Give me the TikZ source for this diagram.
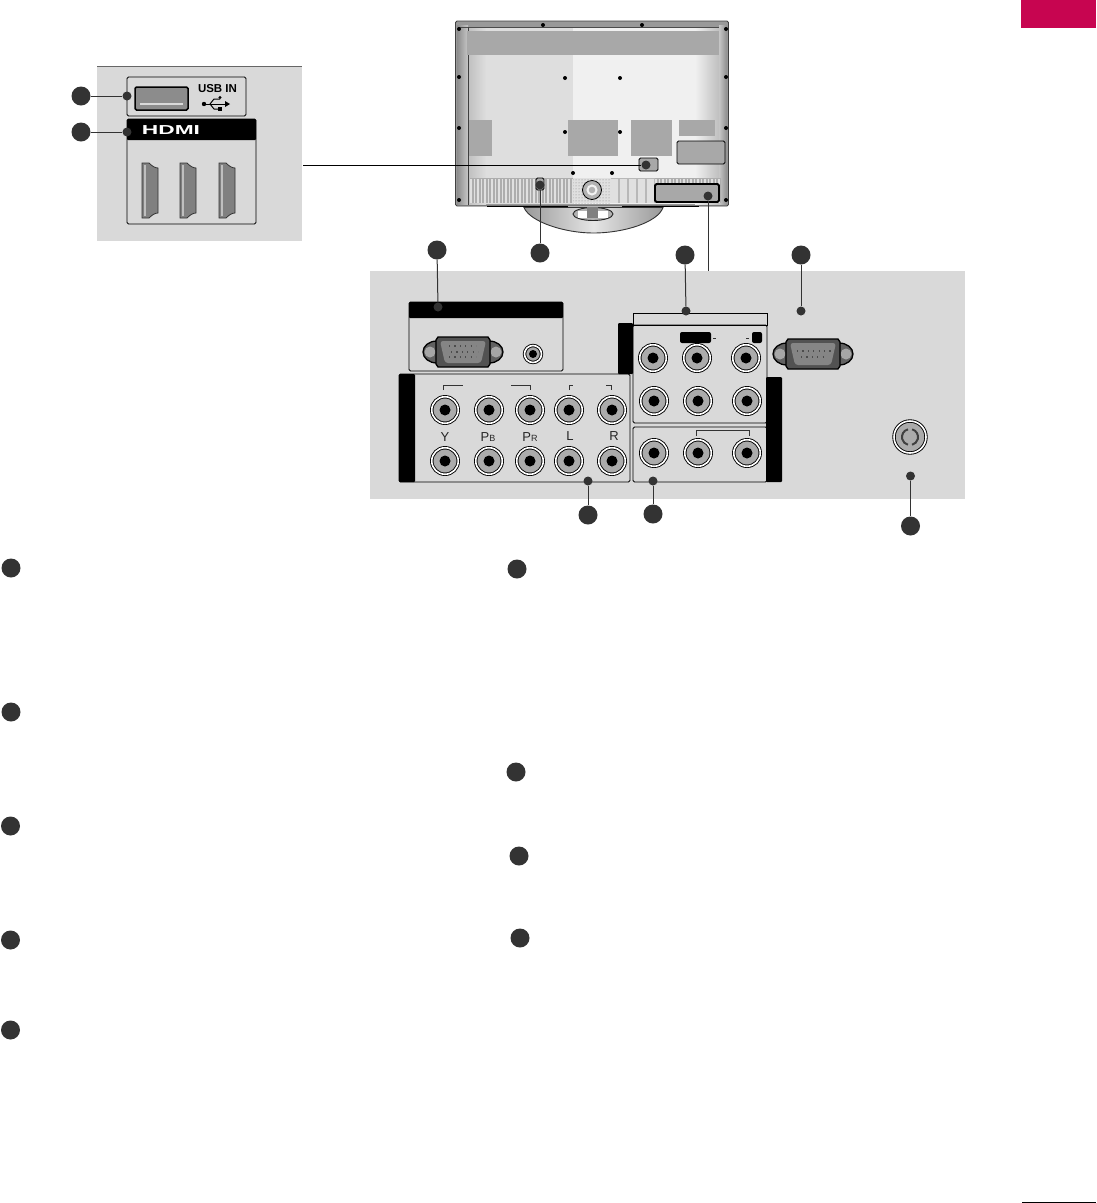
\documentclass[tikz,border=0pt]{standalone}
\usepackage{fontspec}
\setmainfont{Liberation Sans}
\usepackage{xcolor}
\usetikzlibrary{positioning, patterns}
\definecolor{panelgrey}{HTML}{D9D9D9}
\definecolor{markgrey}{HTML}{333333}
\definecolor{blockgrey}{HTML}{A8A8A8}
\definecolor{jackgrey}{HTML}{ABABAB}
\definecolor{tabred}{HTML}{C70550}

\begin{document}
\begin{tikzpicture}[
        x=1pt, y=-1pt,
        panel/.style={
            rectangle,
            fill=panelgrey,
            anchor=north west,
            inner sep=0pt,
            outer sep=0pt
        },
        portbox/.style={
            rectangle,
            draw=black,
            line width=0.9pt,
            rounded corners=1.5pt,
            anchor=north west,
            inner sep=0pt,
            outer sep=0pt
        },
        blackbar/.style={
            rectangle,
            fill=black,
            rounded corners=1pt,
            anchor=north west,
            inner sep=0pt,
            outer sep=0pt
        },
        tvblock/.style={
            rectangle,
            fill=blockgrey,
            anchor=north west,
            inner sep=0pt,
            outer sep=0pt
        },
        bullet/.style={
            circle,
            fill=markgrey,
            minimum size=19pt,
            inner sep=0pt
        },
        dotmark/.style={
            circle,
            fill=markgrey,
            minimum size=9pt,
            inner sep=0pt
        },
        screw/.style={
            circle,
            fill=black,
            minimum size=4pt,
            inner sep=0pt
        },
        jack/.style={
            circle,
            draw=black,
            double=white,
            double distance=1.6pt,
            line width=0.9pt,
            fill=jackgrey,
            minimum size=26.5pt,
            inner sep=0pt,
            path picture={\fill[black] (path picture bounding box.center) circle (5.5pt);}
        },
        smalljack/.style={
            jack,
            minimum size=17pt,
            fill=blockgrey,
            path picture={\fill[black] (path picture bounding box.center) circle (4pt);}
        },
        antenna/.style={
            jack,
            minimum size=32pt,
            path picture={}
        },
        link/.style={
            draw=markgrey,
            line width=1pt
        },
        bracket/.style={
            draw=black!80,
            line width=0.8pt
        },
        jacklabel/.style={
            font=\fontsize{13}{13}\selectfont,
            text=black!85,
            inner sep=0pt
        },
        pinrow/.style={
            draw=black!70,
            line width=1.2pt,
            dash pattern=on 1.2pt off 4.2pt
        },
        ventlines/.style={
            draw=black!12,
            line width=24pt,
            dash pattern=on 1.6pt off 1.9pt
        },
        hdmiport/.pic={
            \draw[draw=black!80, line width=0.8pt, fill=black!50] (0,0) -- (7,0) .. controls (10,3) and (13,5) .. (16,5) -- (16,50) .. controls (13,50) and (10,52) .. (7,55) -- (0,55) -- cycle;
            \fill[black!25] (2,2) rectangle (4,53);
        },
        dsub/.pic={
            \draw[line width=1.3pt, fill=black!62] (-26,-11) .. controls (-34,-11) and (-40,-6) .. (-40,0) .. controls (-40,6) and (-34,11) .. (-26,11) -- (26,11) .. controls (34,11) and (40,6) .. (40,0) .. controls (40,-6) and (34,-11) .. (26,-11) -- cycle;
            \fill[black!35] (-33,0) circle (5.5pt);
            \fill[black!35] (33,0) circle (5.5pt);
            \draw[line width=1.3pt, fill=black!68] (-25,-15) -- (25,-15) -- (27,-12) -- (27,12) -- (25,15) -- (-25,15) -- (-27,12) -- (-27,-12) -- cycle;
            \fill[black!48, rounded corners=3pt] (-23,-11) -- (23,-11) -- (18,11) -- (-18,11) -- cycle;
        }
    ]
        \useasboundingbox (0,0) rectangle (1096,1203);

        % corner tab and foot line
        \node (tab) [panel, fill=tabred, minimum width=75pt, minimum height=28pt] at (1021,0) {};
        \node (footline) [panel, fill=black, minimum width=74pt, minimum height=1pt] at (1022,1202) {};

        % side panel with usb and hdmi
        \node (sidepanel) [panel, minimum width=205pt, minimum height=175pt] at (97,66) {};
        \draw [draw=black!60, line width=0.7pt] (sidepanel.north west) -- (sidepanel.north east);
        \node (usbbox) [portbox, minimum width=119pt, minimum height=39pt] at (127,77) {};
        \node (usbport) [portbox, fill=black!45, line width=1.5pt, minimum width=53pt, minimum height=23pt] at (135,87) {};
        \draw [draw=black!15, line width=1.2pt] (140,104) -- (183,104);
        \node (usbtext) [jacklabel, font=\fontsize{11.5}{12}\selectfont\bfseries, text=black] at (217.5,89) {USB IN};
        \draw [black, line width=1pt] (204,104) -- (225,104);
        \draw [black, line width=1pt] (210,104) -- (214,99) -- (220,99);
        \draw [black, line width=1pt] (210,104) -- (214,109) -- (219,109);
        \fill [black] (204,104) circle (2.2pt);
        \fill [black] (220,97.5) circle (1.6pt);
        \fill [black] (218,107) rectangle (222,111);
        \fill [black] (225,101) -- (230,104) -- (225,107) -- cycle;
        \node (hdmibox) [portbox, minimum width=129pt, minimum height=105pt] at (127,119) {};
        \node (hdmihead) [blackbar, minimum width=129pt, minimum height=21pt] at (127,119) {};
        \node (hdmitext) [text=white, inner sep=0pt] at (171,130) {\scalebox{1.75}[1]{\fontsize{13}{13}\selectfont\bfseries HDMI}};
        \pic at (142,163) {hdmiport};
        \pic at (180,163) {hdmiport};
        \pic at (219,163) {hdmiport};
        \node (usbbullet) [bullet] at (81,96) {};
        \node (usbdot) [dotmark] at (127,96) {};
        \node (hdmibullet) [bullet] at (81,132) {};
        \node (hdmidot) [dotmark] at (127,132) {};
        \draw [link] (usbbullet) -- (usbdot);
        \draw [link] (hdmibullet) -- (hdmidot);

        % tv back
        \draw [draw=black!75, line width=0.8pt, fill=black!40, rounded corners=1.5pt] (455.5,21) -- (728.5,21) -- (728.5,206) -- (455.5,206) -- cycle;
        \fill [left color=black!45, right color=black!22] (457,25) rectangle (468,204);
        \fill [left color=black!22, right color=black!45] (719,25) rectangle (727,204);
        \fill [left color=black!25, right color=black!13] (468,27) rectangle (486,204);
        \fill [black!13] (486,27) rectangle (573,204);
        \fill [black!6] (573,27) rectangle (695,204);
        \fill [left color=black!6, right color=black!25] (695,27) rectangle (719,204);
        \draw [black!70, line width=0.8pt] (458,27) -- (719,27);
        \draw [black!75, line width=0.8pt] (468,27) -- (468,205);
        \node (topband) [tvblock, minimum width=252pt, minimum height=24pt] at (467,31) {};
        \node (blocka) [tvblock, minimum width=23pt, minimum height=36pt] at (469,120) {};
        \node (blockb) [tvblock, minimum width=50pt, minimum height=36pt] at (568,120) {};
        \node (blockc) [tvblock, minimum width=41pt, minimum height=36pt] at (631,120) {};
        \node (blockd) [tvblock, minimum width=36pt, minimum height=16pt] at (679,120) {};
        \node (blocke) [portbox, fill=blockgrey, minimum width=48pt, minimum height=23pt] at (677,141) {};
        \fill [black!32] (470,178) rectangle (573,203);
        \draw [ventlines] (470,190.5) -- (573,190.5);
        \fill [black!12] (573,178) rectangle (611,203);
        \fill [pattern=dots, pattern color=black!50] (573,178) rectangle (611,203);
        \fill [black!28] (611,178) rectangle (655,203);
        \draw [ventlines, dash pattern=on 7pt off 2pt] (611,190.5) -- (655,190.5);
        \fill [black!32] (655,178) rectangle (721,203);
        \draw [ventlines] (655,190.5) -- (721,190.5);
        \node (standhole) [circle, draw=black, line width=0.8pt, fill=black!30, minimum size=19pt, inner sep=0pt] at (592,190) {};
        \draw [black!5, line width=2pt] (592,190) circle (4.5pt);
        \node (tvports) [portbox, fill=blockgrey, minimum width=19pt, minimum height=13pt] at (639,158) {};
        \node (tvrgb) [portbox, fill=blockgrey, line width=0.9pt, minimum width=8pt, minimum height=12pt] at (536,178) {};
        \node (tvav) [portbox, fill=blockgrey, line width=1.8pt, minimum width=64pt, minimum height=18pt] at (655,184) {};
        \draw [black, line width=1.4pt] (487,206.5) -- (568,206.5);
        \draw [black, line width=1.4pt] (622,206.5) -- (699,206.5);
        \node (screwa) [screw] at (543,25) {};
        \node (screwb) [screw] at (642,25) {};
        \node (screwc) [screw] at (459,29) {};
        \node (screwd) [screw] at (726,29) {};
        \node (screwe) [screw] at (459,77) {};
        \node (screwf) [screw] at (726,77) {};
        \node (screwg) [screw] at (459,128) {};
        \node (screwh) [screw] at (726,128) {};
        \node (screwi) [screw] at (459,200) {};
        \node (screwj) [screw] at (726,200) {};
        \node (screwk) [screw] at (565,78) {};
        \node (screwl) [screw] at (620,78) {};
        \node (screwm) [screw] at (565,132) {};
        \node (screwn) [screw] at (620,132) {};
        \node (screwo) [screw] at (573,173) {};
        \node (screwp) [screw] at (612,173) {};

        % stand
        \draw [black!80, line width=0.9pt, left color=black!40, right color=black!40, middle color=black!10] (524,207.5) .. controls (530,222) and (565,233) .. (593,233) .. controls (625,233) and (658,222) .. (663,207.5) -- cycle;
        \draw [black!85, line width=0.9pt, fill=black!30] (593,214) ellipse (20pt and 6.5pt);
        \fill [white] (578,210.5) rectangle (608,217.5);
        \fill [black!50] (587,207) rectangle (598,218);

        % main connector panel
        \node (mainpanel) [panel, minimum width=595pt, minimum height=228pt] at (370,271) {};

        \node (rgbbox) [portbox, minimum width=154pt, minimum height=69pt] at (409,302) {};
        \node (rgbhead) [blackbar, minimum width=154pt, minimum height=16pt] at (409,302) {};
        \pic at (463,352) {dsub};
        \draw [pinrow] (449,346) -- (476,346);
        \draw [pinrow] (451,352) -- (478,352);
        \draw [pinrow] (449,357) -- (476,357);
        \node (rgbaudio) [smalljack] at (533,354) {};

        \node (compbox) [portbox, minimum width=231pt, minimum height=108pt] at (399,374) {};
        \node (compbar) [blackbar, minimum width=16pt, minimum height=108pt] at (399,374) {};
        \node (compya) [jack] at (445,410) {};
        \node (compba) [jack] at (489,410) {};
        \node (compra) [jack] at (530,410) {};
        \node (compla) [jack] at (569,410) {};
        \node (comprb) [jack] at (612,410) {};
        \node (compyb) [jack] at (445,461) {};
        \node (compbb) [jack] at (489,461) {};
        \node (comprc) [jack] at (530,461) {};
        \node (complb) [jack] at (569,461) {};
        \node (comprd) [jack] at (612,461) {};
        \draw [bracket] (443.5,390) -- (443.5,385) -- (463,385);
        \draw [bracket] (511,385) -- (530,385) -- (530,390);
        \draw [bracket] (569,390) -- (569,385) -- (573,385);
        \draw [bracket] (606,385) -- (611,385) -- (611,390);
        \node (labely) [jacklabel] at (445,437) {Y};
        \node (labelpb) [jacklabel] at (488,437) {P{\fontsize{9}{9}\selectfont B}};
        \node (labelpr) [jacklabel] at (530,437) {P{\fontsize{9}{9}\selectfont R}};
        \node (labell) [jacklabel] at (570,436) {L};
        \node (labelr) [jacklabel] at (614,436) {R};

        \node (avtop) [portbox, rounded corners=0pt, minimum width=134pt, minimum height=12pt] at (633,313) {};
        \node (avbox) [portbox, minimum width=134pt, minimum height=98pt] at (633,325) {};
        \node (avbar) [blackbar, minimum width=15pt, minimum height=51pt] at (618,323) {};
        \node (avlow) [portbox, minimum width=134pt, minimum height=55pt] at (633,427) {};
        \node (avside) [blackbar, minimum width=16pt, minimum height=105pt] at (766,377) {};
        \node (avpill) [blackbar, rounded corners=2pt, minimum width=31pt, minimum height=11pt] at (680,332) {};
        \node (avsquare) [blackbar, rounded corners=2pt, minimum width=10pt, minimum height=11pt] at (752,332) {};
        \draw [bracket] (713,338) -- (716,338);
        \draw [bracket] (746,338) -- (749,338);
        \node (avaa) [jack] at (653,358) {};
        \node (avab) [jack] at (697,358) {};
        \node (avac) [jack] at (746,358) {};
        \node (avba) [jack] at (654,401) {};
        \node (avbb) [jack] at (698,401) {};
        \node (avbc) [jack] at (747,401) {};
        \node (avca) [jack] at (654,453) {};
        \node (avcb) [jack] at (698,453) {};
        \node (avcc) [jack] at (747,453) {};
        \draw [bracket] (696,436) -- (696,430) -- (749,430) -- (749,436);

        \pic at (813,354) {dsub};
        \draw [pinrow] (797,351) -- (831,351);
        \draw [pinrow] (801,357) -- (827,357);

        \node (antennajack) [antenna] at (910,437) {};
        \draw [black!75, line width=2pt] (907.9,429.3) arc (105:255:8pt);
        \draw [black!75, line width=2pt] (912.1,429.3) arc (75:-75:8pt);

        % callout marks
        \node (sidedot) [dotmark] at (646,165) {};
        \coordinate (sideend) at (303,165);
        \draw [link, draw=black] (sideend) -- (sidedot);

        \node (rgbdot) [dotmark] at (438,307) {};
        \node (rgbbullet) [bullet] at (437,250) {};
        \draw [link] (rgbbullet) -- (rgbdot);

        \node (tvrgbdot) [dotmark] at (540,185) {};
        \node (tvrgbbullet) [bullet] at (540,253) {};
        \draw [link] (tvrgbbullet) -- (tvrgbdot);

        \node (tvavdot) [dotmark] at (708,196) {};
        \coordinate (panelend) at (708,271);
        \draw [link] (tvavdot) -- (panelend);

        \node (avdot) [dotmark] at (686,311) {};
        \node (avbullet) [bullet] at (685,255) {};
        \draw [link] (avbullet) -- (avdot);

        \node (serialdot) [dotmark] at (801,311) {};
        \node (serialbullet) [bullet] at (801,255) {};
        \draw [link] (serialbullet) -- (serialdot);

        \node (compdot) [dotmark] at (588,481) {};
        \node (compbullet) [bullet] at (588,515) {};
        \draw [link] (compdot) -- (compbullet);

        \node (avlowdot) [dotmark] at (653,481) {};
        \node (avlowbullet) [bullet] at (653,514) {};
        \draw [link] (avlowdot) -- (avlowbullet);

        \node (antennadot) [dotmark] at (910.5,476) {};
        \node (antennabullet) [bullet] at (910.5,526) {};
        \draw [link] (antennadot) -- (antennabullet);

        % list marks
        \node (lista) [bullet] at (11,568) {};
        \node (listb) [bullet] at (11,712) {};
        \node (listc) [bullet] at (10.5,826) {};
        \node (listd) [bullet] at (10.5,940) {};
        \node (liste) [bullet] at (10.5,1030) {};
        \node (listf) [bullet] at (517,569) {};
        \node (listg) [bullet] at (516,772) {};
        \node (listh) [bullet] at (519,856) {};
        \node (listi) [bullet] at (520,938) {};
    \end{tikzpicture}
\end{document}
